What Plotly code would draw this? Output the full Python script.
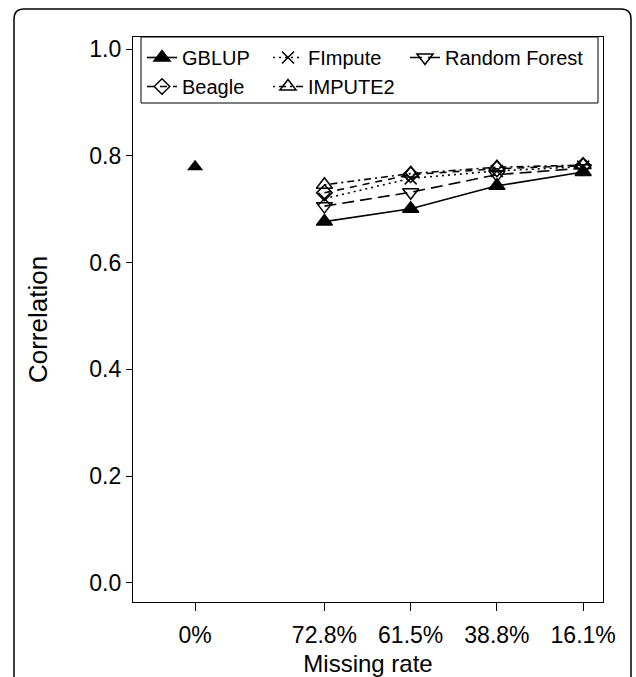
import plotly.graph_objects as go

# ---- data ----
categories = ["0%", "72.8%", "61.5%", "38.8%", "16.1%"]
x_pos = [0, 1.5, 2.5, 3.5, 4.5]          # category positions on the axis
gblup_baseline = 0.78                      # GBLUP with no missing genotypes (0%)
gblup = [0.677, 0.701, 0.744, 0.770]
fimpute = [0.720, 0.758, 0.772, 0.780]
random_forest = [0.706, 0.732, 0.765, 0.777]
beagle = [0.731, 0.765, 0.776, 0.782]
impute2 = [0.746, 0.767, 0.779, 0.783]
y_ticks = [0.0, 0.2, 0.4, 0.6, 0.8, 1.0]

fig = go.Figure()
FONT = "Liberation Sans, Arial, Helvetica, sans-serif"
LW = 1.6
W, H = 636, 677
ML, MR, MT, MB = 133, 33, 37, 75
PW, PH = W - ML - MR, H - MT - MB


def px_x(px):
    return (px - ML) / PW


def px_y(py):
    return (H - MB - py) / PH


# baseline point (not connected)
fig.add_trace(go.Scatter(
    x=[x_pos[0]], y=[gblup_baseline], mode="markers", showlegend=False,
    marker=dict(symbol="triangle-up", size=14, color="black"),
))

series = [
    ("GBLUP", gblup, "solid", "triangle-up", "legend"),
    ("Beagle", beagle, "7px,6px", "diamond-open", "legend"),
    ("FImpute", fimpute, "2px,4px", "x-thin-open", "legend2"),
    ("IMPUTE2", impute2, "2px,4px,7px,4px", "triangle-up-open", "legend2"),
    ("Random Forest", random_forest, "12px,6px", "triangle-down-open", "legend3"),
]
for name, vals, dash, sym, leg in series:
    fig.add_trace(go.Scatter(
        x=x_pos[1:], y=vals, mode="lines+markers", name=name, legend=leg,
        line=dict(color="black", width=LW, dash=dash),
        marker=dict(symbol=sym, size=14 if "triangle" in sym else 12,
                    color="black", line=dict(color="black", width=1.5)),
    ))

leg_common = dict(orientation="v", yanchor="top", xanchor="left",
                  borderwidth=0, bgcolor="rgba(0,0,0,0)",
                  font=dict(size=20, family=FONT), itemwidth=30, tracegroupgap=0)

fig.update_layout(
    width=W, height=H,
    margin=dict(l=ML, r=MR, t=MT, b=MB),
    plot_bgcolor="white", paper_bgcolor="white",
    font=dict(family=FONT, size=23, color="black"),
    showlegend=True,
    legend=dict(x=px_x(142), y=px_y(38), **leg_common),
    legend2=dict(x=px_x(268), y=px_y(38), **leg_common),
    legend3=dict(x=px_x(405), y=px_y(38), **leg_common),
    xaxis=dict(
        range=[-0.72, 4.73], tickmode="array", tickvals=x_pos, ticktext=categories,
        ticks="outside", ticklen=8, tickcolor="black", showgrid=False, zeroline=False,
        showline=True, linecolor="black", linewidth=1.2, mirror=True,
        automargin=False, ticklabelstandoff=4,
        title=dict(text="Missing rate", font=dict(size=24), standoff=22),
    ),
    yaxis=dict(
        range=[-0.036, 1.023], tickmode="array", tickvals=y_ticks, tickformat=".1f",
        ticks="outside", ticklen=6, tickcolor="black", showgrid=False, zeroline=False,
        showline=True, linecolor="black", linewidth=1.2, mirror=True,
        automargin=False,
        title=dict(text="Correlation", font=dict(size=26), standoff=34),
    ),
)

# legend frame (drawn as a box behind the legend entries)
fig.add_shape(type="rect", xref="paper", yref="paper",
              x0=px_x(141), x1=px_x(598), y0=px_y(103), y1=px_y(37),
              line=dict(color="black", width=1), fillcolor="white", layer="above")

# rounded outer panel border (figure frame)
x0, x1 = px_x(14), px_x(631)
y0, y1 = px_y(H + 20), px_y(9)
rx, ry = 10 / PW, 10 / PH
path = (f"M {x0},{y0} L {x0},{y1-ry} Q {x0},{y1} {x0+rx},{y1} "
        f"L {x1-rx},{y1} Q {x1},{y1} {x1},{y1-ry} L {x1},{y0}")
fig.add_shape(type="path", xref="paper", yref="paper", path=path,
              line=dict(color="black", width=1.5), layer="above")

fig.write_html("out.html")
